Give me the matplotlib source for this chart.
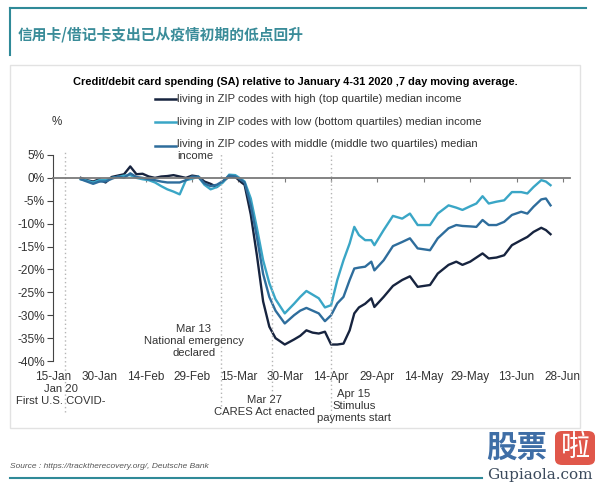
import matplotlib
matplotlib.use("Agg")
import matplotlib.pyplot as plt
from matplotlib.lines import Line2D
from matplotlib.patches import Rectangle, FancyBboxPatch
import matplotlib.transforms as mtransforms

plt.rcParams["font.family"] = ["Liberation Sans", "DejaVu Sans"]
plt.rcParams["axes.unicode_minus"] = False

# days counted from 15-Jan-2020
days = [9, 11, 13, 15, 17, 19, 21, 23, 25, 27, 29, 31, 33, 35, 37, 39, 41, 43, 45, 47,
        49, 51, 53, 55, 57, 59, 61, 62, 64, 66, 68, 70, 72, 75, 78, 80, 82, 84, 86, 88,
        90, 92, 94, 96, 97.5, 99, 101, 103, 104, 107, 110, 113, 115.5, 118, 122, 124.5,
        128, 130.5, 132.5, 135, 137, 139, 141, 143.5, 146, 148.5, 151.5, 153.5, 155.5,
        158, 159.5, 161]

high_income = [0.0, -0.5, -0.8, -0.3, -1.0, 0.2, 0.5, 0.8, 2.5, 0.8, 0.9, 0.3, 0.0, 0.3,
               0.4, 0.6, 0.3, 0.0, 0.5, 0.3, -0.8, -1.3, -2.0, -0.8, 0.3, 0.2, -1.0, -1.5,
               -8.0, -17.0, -27.0, -32.5, -35.0, -36.4, -35.3, -34.5, -33.3, -33.8, -34.0,
               -33.6, -36.4, -36.4, -36.2, -33.3, -29.6, -28.3, -27.5, -26.3, -28.2, -26.0,
               -23.6, -22.3, -21.5, -23.8, -23.4, -20.9, -19.0, -18.3, -19.0, -18.3, -17.4,
               -16.5, -17.6, -17.4, -16.9, -14.7, -13.6, -12.9, -11.8, -10.9, -11.4, -12.3]

low_income = [-0.3, -0.6, -1.0, -0.5, -0.5, 0.0, 0.2, 0.5, 0.6, 0.0, -0.3, -0.5, -1.0, -1.8,
              -2.5, -3.0, -3.6, -0.5, -0.2, 0.3, -1.5, -2.5, -2.0, -1.0, 0.7, 0.6, -0.3, -0.8,
              -4.5, -11.0, -18.0, -23.0, -26.5, -29.6, -27.5, -26.0, -24.7, -25.5, -26.3,
              -28.3, -27.8, -22.3, -18.0, -14.3, -10.7, -12.5, -13.6, -13.6, -14.7, -11.4,
              -8.3, -8.9, -7.8, -10.3, -10.3, -7.8, -6.0, -6.5, -7.0, -6.2, -5.6, -4.0, -5.6,
              -5.2, -4.9, -3.1, -3.1, -3.4, -2.0, -0.5, -0.8, -1.6]

middle_income = [-0.3, -0.8, -1.3, -0.8, -0.8, -0.2, 0.3, 0.0, 1.0, 0.2, 0.0, -0.3, -0.5,
                 -0.8, -1.0, -1.0, -1.0, -0.5, 0.3, 0.2, -1.2, -1.8, -1.5, -0.7, 0.5, 0.3,
                 -0.5, -1.0, -6.0, -13.0, -21.0, -26.0, -29.0, -31.8, -30.0, -29.0, -28.4,
                 -29.0, -29.6, -31.3, -30.0, -27.4, -26.0, -22.3, -19.8, -19.6, -19.4, -18.3,
                 -20.2, -18.0, -14.9, -14.0, -13.2, -15.4, -15.8, -13.2, -11.0, -10.3, -10.5,
                 -10.6, -10.7, -9.2, -10.3, -10.3, -9.6, -8.1, -7.4, -7.8, -6.3, -4.7, -4.5,
                 -6.0]

series_labels = [
    "living in ZIP codes with high (top quartile) median income",
    "living in ZIP codes with low (bottom quartiles) median income",
    "living in ZIP codes with middle (middle two quartiles) median\nincome",
]
xtick_days = [0, 15, 30, 45, 60, 75, 90, 105, 120, 135, 150, 165]
xtick_labels = ["15-Jan", "30-Jan", "14-Feb", "29-Feb", "15-Mar", "30-Mar", "14-Apr",
                "29-Apr", "14-May", "29-May", "13-Jun", "28-Jun"]
ytick_values = [5, 0, -5, -10, -15, -20, -25, -30, -35, -40]
ytick_labels = ["5%", "0%", "-5%", "-10%", "-15%", "-20%", "-25%", "-30%", "-35%", "-40%"]
event_days = [4, 54.5, 71, 90]
event_labels = ["Jan 20\nFirst U.S. COVID-", "Mar 13\nNational emergency\ndeclared",
                "Mar 27\nCARES Act enacted", "Apr 15\nStimulus\npayments start"]

C_HIGH, C_LOW, C_MID = "#17243f", "#3aa6c6", "#2e6d9c"
TEAL = "#2f8a98"
W, H = 600, 486

fig = plt.figure(figsize=(6, 4.86), dpi=100)

# page decoration
fig.add_artist(Line2D([10 / W, 586 / W], [1 - 8.5 / H, 1 - 8.5 / H], color=TEAL, lw=1.5))
fig.add_artist(Line2D([10 / W, 10 / W], [1 - 8.5 / H, 1 - 55 / H], color=TEAL, lw=1.5))
fig.text(18 / W, 1 - 35 / H, "信用卡/借记卡支出已从疫情初期的低点回升", fontsize=10.6,
         color="#3a8c99", weight="bold", va="center", family=["Noto Sans CJK SC", "DejaVu Sans"])
fig.add_artist(Rectangle((10 / W, 1 - 428 / H), 570 / W, 363 / H, fill=False,
                         edgecolor="#e2e2e2", lw=1.0))
fig.add_artist(Line2D([10 / W, 482 / W], [1 - 478 / H, 1 - 478 / H], color=TEAL, lw=1.5))
fig.text(10 / W, 1 - 466.5 / H, "Source : https://tracktherecovery.org/, Deutsche Bank",
         fontsize=6, style="italic", color="#555555", va="center")

# watermark logo
fig.text(486 / W, 1 - 448 / H, "股票", fontsize=22, color="#3f6ea6", weight="bold",
         va="center", family=["Noto Sans CJK SC"])
fig.add_artist(FancyBboxPatch((555 / W, 1 - 465 / H), 40 / W, 34 / H,
                              boxstyle="round,pad=0,rounding_size=0.012",
                              facecolor="#e0574a", edgecolor="none"))
fig.text(575 / W, 1 - 448 / H, "啦", fontsize=21, color="white", ha="center", va="center",
         family=["Noto Sans CJK SC"])
fig.text(540 / W, 1 - 475 / H, "Gupiaola.com", fontsize=11, color="#3b4a5c", ha="center",
         va="center", family=["DejaVu Serif"])

# chart title and legend
fig.text(295 / W, 1 - 82 / H,
         "Credit/debit card spending (SA) relative to January 4-31 2020 ,7 day moving average.",
         fontsize=7.9, weight="bold", ha="center", va="center")
for row, (label, col) in enumerate(zip(series_labels, [C_HIGH, C_LOW, C_MID])):
    y = 1 - (98.7 + 23.5 * row) / H
    fig.add_artist(Line2D([155 / W, 176 / W], [y, y], color=col, lw=1.8))
    if "\n" in label:
        fig.text(177 / W, y + 6.5 / H, label, fontsize=8.1, color="#333333", va="top",
                 linespacing=1.25)
    else:
        fig.text(177 / W, y, label, fontsize=8.1, color="#333333", va="center")
fig.text(57 / W, 1 - 122 / H, "%", fontsize=8.4, color="#333333", ha="center", va="center")

ax = fig.add_axes([53 / W, 125 / H, 517 / W, 206 / H])
ax.plot(days, high_income, color=C_HIGH, lw=1.7, solid_joinstyle="round")
ax.plot(days, low_income, color=C_LOW, lw=1.7, solid_joinstyle="round")
ax.plot(days, middle_income, color=C_MID, lw=1.7, solid_joinstyle="round")

ax.set_xlim(0, 167.3)
ax.set_ylim(-40, 5)
for s in ["top", "right"]:
    ax.spines[s].set_visible(False)
ax.spines["bottom"].set_position(("data", 0))
ax.spines["bottom"].set_color("#7a7a7a")
ax.spines["bottom"].set_linewidth(1.3)
ax.spines["left"].set_color("#444444")
ax.set_xticks(xtick_days)
ax.tick_params(axis="x", direction="out", length=3, color="#7a7a7a", labelbottom=False)
ax.set_yticks(ytick_values, ytick_labels)
ax.tick_params(axis="y", direction="out", length=4, color="#444444", labelsize=8.6,
               labelcolor="#333333", pad=2)

sec = ax.secondary_xaxis("bottom")
sec.set_xticks(xtick_days, xtick_labels)
sec.tick_params(length=0, pad=7, labelsize=8.5, labelcolor="#333333")
sec.spines["bottom"].set_visible(False)

# event markers
blend = mtransforms.blended_transform_factory(ax.transData, ax.transAxes)
line_bottoms = [-0.248, -0.218, -0.165, -0.30]
for d, yb in zip(event_days, line_bottoms):
    ax.axvline(d, ymin=yb, ymax=1.015, color="#b5b5b5", lw=1.0, ls=(0, (1, 2)), clip_on=False)
text_pos = [(2.5, -0.164), (45.6, 0.097), (68.3, -0.218), (97.4, -0.218)]
for (tx, ty), label in zip(text_pos, event_labels):
    ax.text(tx, ty, label, transform=blend, ha="center", va="center", fontsize=8.1,
            color="#333333", linespacing=1.2, clip_on=False)

fig.savefig("out.png", dpi=100)
